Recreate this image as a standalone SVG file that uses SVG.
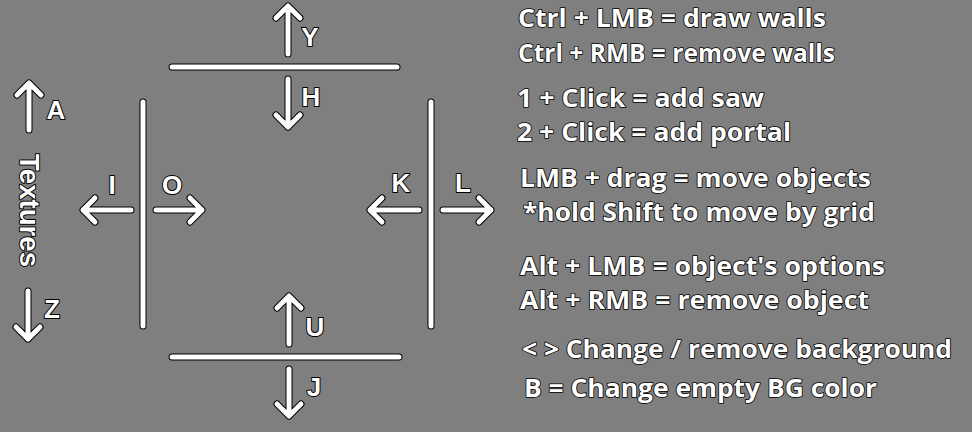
<svg xmlns="http://www.w3.org/2000/svg" xmlns:xlink="http://www.w3.org/1999/xlink" width="972" height="432" viewBox="0 0 972 432">
<defs>
<style>
.o{fill:none;stroke:#000;stroke-width:7;stroke-linecap:round;stroke-linejoin:round}
.w{fill:none;stroke:#fff;stroke-width:5;stroke-linecap:round;stroke-linejoin:round}
.k{font-family:"Liberation Sans",Arial,sans-serif;font-weight:bold;font-size:26px;fill:#fff;stroke:#000;stroke-width:2;paint-order:stroke;stroke-linejoin:round;text-anchor:middle}
.tx{font-family:"Liberation Sans",Arial,sans-serif;font-weight:bold;font-size:28px;fill:#fff;stroke:#000;stroke-width:2;paint-order:stroke;stroke-linejoin:round}
.h{font-family:"Open Sans","Noto Sans",sans-serif;font-weight:bold;font-size:25px;fill:#fff;stroke:#000;stroke-width:1.6;paint-order:stroke;stroke-linejoin:round}
</style>
<path id="wT" d="M172 67 H397"/>
<path id="wL" d="M143 102 V326"/>
<path id="wR" d="M431 102 V326"/>
<path id="wB" d="M172 357 H399"/>
<path id="aY" d="M288 54 V6 M276 18 L288 6 L300 18"/>
<path id="aH" d="M288 79 V127 M276 115 L288 127 L300 115"/>
<path id="aA" d="M29 130 V83 M17 95 L29 83 L41 95"/>
<path id="aZ" d="M28 291 V339 M16 327 L28 339 L40 327"/>
<path id="aI" d="M131 210 H83 M95 198 L83 210 L95 222"/>
<path id="aO" d="M156 210 H202 M190 198 L202 210 L190 222"/>
<path id="aK" d="M419 210 H370 M382 198 L370 210 L382 222"/>
<path id="aL" d="M443 210 H491 M479 198 L491 210 L479 222"/>
<path id="aU" d="M289 344 V296 M277 308 L289 296 L301 308"/>
<path id="aJ" d="M289 369 V416 M277 404 L289 416 L301 404"/>
</defs>
<rect width="972" height="432" fill="#7f7f7f"/>
<g id="connectors">
<g class="o">
<use xlink:href="#wT"/><use xlink:href="#wL"/><use xlink:href="#wR"/><use xlink:href="#wB"/>
<use xlink:href="#aY"/><use xlink:href="#aH"/><use xlink:href="#aA"/><use xlink:href="#aZ"/>
<use xlink:href="#aI"/><use xlink:href="#aO"/><use xlink:href="#aK"/><use xlink:href="#aL"/>
<use xlink:href="#aU"/><use xlink:href="#aJ"/>
</g>
<g class="w">
<use xlink:href="#wT"/><use xlink:href="#wL"/><use xlink:href="#wR"/><use xlink:href="#wB"/>
<use xlink:href="#aY"/><use xlink:href="#aH"/><use xlink:href="#aA"/><use xlink:href="#aZ"/>
<use xlink:href="#aI"/><use xlink:href="#aO"/><use xlink:href="#aK"/><use xlink:href="#aL"/>
<use xlink:href="#aU"/><use xlink:href="#aJ"/>
</g>
</g>
<g id="labels">
<text class="k" x="310" y="46">Y</text>
<text class="k" x="311" y="106">H</text>
<text class="k" x="56" y="119">A</text>
<text class="k" x="52" y="318">Z</text>
<text class="k" x="112" y="194">I</text>
<text class="k" x="172" y="194">O</text>
<text class="k" x="401" y="192">K</text>
<text class="k" x="463" y="192">L</text>
<text class="k" x="315" y="336">U</text>
<text class="k" x="314" y="396">J</text>
<text class="tx" transform="translate(20,154) rotate(90)" x="0" y="0" textLength="113" lengthAdjust="spacingAndGlyphs">Textures</text>
</g>
<g id="help">
<text class="h" x="518" y="27" textLength="308" lengthAdjust="spacingAndGlyphs">Ctrl + LMB = draw walls</text>
<text class="h" x="518" y="62" textLength="317" lengthAdjust="spacingAndGlyphs">Ctrl + RMB = remove walls</text>
<text class="h" x="517" y="107" textLength="247" lengthAdjust="spacingAndGlyphs">1 + Click = add saw</text>
<text class="h" x="517" y="141" textLength="274" lengthAdjust="spacingAndGlyphs">2 + Click = add portal</text>
<text class="h" x="520" y="187" textLength="351" lengthAdjust="spacingAndGlyphs">LMB + drag = move objects</text>
<text class="h" x="523" y="221" textLength="352" lengthAdjust="spacingAndGlyphs">*hold Shift to move by grid</text>
<text class="h" x="520" y="275" textLength="365" lengthAdjust="spacingAndGlyphs">Alt + LMB = object's options</text>
<text class="h" x="520" y="309" textLength="349" lengthAdjust="spacingAndGlyphs">Alt + RMB = remove object</text>
<text class="h" x="522" y="358" textLength="430" lengthAdjust="spacingAndGlyphs">&lt; &gt; Change / remove background</text>
<text class="h" x="524" y="397" textLength="353" lengthAdjust="spacingAndGlyphs">B = Change empty BG color</text>
</g>
</svg>
